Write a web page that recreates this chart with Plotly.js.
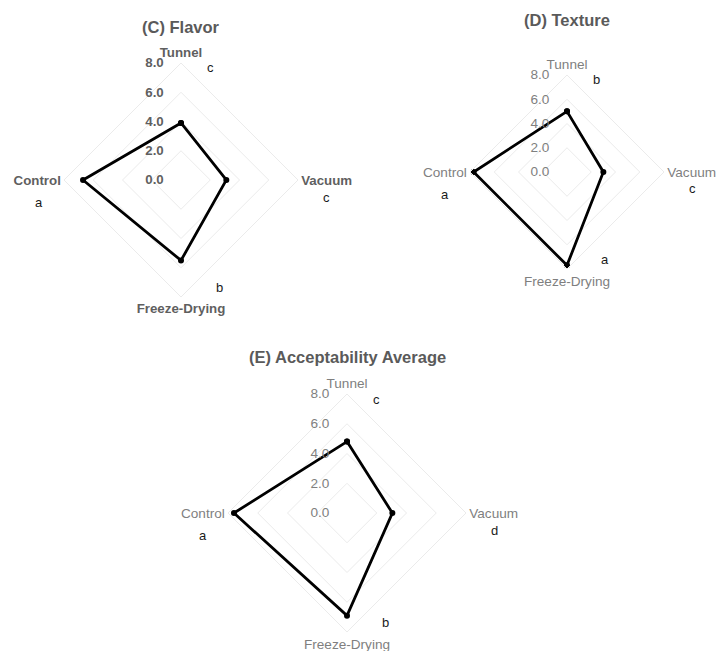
<!DOCTYPE html>
<html>
<head>
<meta charset="utf-8">
<script src="https://cdn.plot.ly/plotly-3.0.1.min.js"></script>
<style>
  html, body { margin: 0; padding: 0; background: #ffffff; }
  #chart { width: 717px; height: 651px; }
</style>
</head>
<body>
<div id="chart"></div>
<script>
// Drying methods, listed counter-clockwise starting from the top axis
const methods = ['Tunnel', 'Control', 'Freeze-Drying', 'Vacuum'];

// Mean sensory scores per drying method
const flavorScores = [3.9, 6.7, 5.5, 3.1];
const textureScores = [5.0, 7.7, 7.7, 3.0];
const acceptabilityScores = [4.8, 7.6, 6.9, 3.05];

// Significance letters per drying method
const flavorLetters = ['c', 'a', 'b', 'c'];
const textureLetters = ['b', 'a', 'a', 'c'];
const acceptabilityLetters = ['c', 'a', 'b', 'd'];

// Radial scale ticks
const scaleTicks = [0, 2, 4, 6, 8];
const scaleTickLabels = ['0.0', '2.0', '4.0', '6.0', '8.0'];

const W = 717, H = 651;
const FONT = 'Liberation Sans, Arial, sans-serif';
// trailing gap so the scale labels sit a little left of the top axis
const LABEL_GAP = '\u00a0\u00a0\u00a0\u00a0';

// Panel geometry in pixels: centre and outer radius of each radar
const panels = [
  { key: 'polar',  title: '(C) Flavor',                 scores: flavorScores,        letters: flavorLetters,        cx: 181, cy: 180, R: 117, titleY: 27,  bold: true,  labelColor: '#5f5f5f' },
  { key: 'polar2', title: '(D) Texture',                scores: textureScores,       letters: textureLetters,       cx: 567, cy: 172, R: 97,  titleY: 20,  bold: false, labelColor: '#7f7f7f' },
  { key: 'polar3', title: '(E) Acceptability Average',  scores: acceptabilityScores, letters: acceptabilityLetters, cx: 347, cy: 513, R: 119, titleY: 357, bold: false, labelColor: '#7f7f7f' }
];

// Letter offsets (px) from each method's outer vertex
const letterOffsets = {
  'Tunnel':        [29, 5],
  'Control':       [-25, 22],
  'Freeze-Drying': [38, -10],
  'Vacuum':        [28, 17]
};
const vertexDir = {
  'Tunnel':        [0, -1],
  'Control':       [-1, 0],
  'Freeze-Drying': [0, 1],
  'Vacuum':        [1, 0]
};

const traces = [];
const layout = {
  width: W, height: H,
  margin: { l: 0, r: 0, t: 0, b: 0 },
  paper_bgcolor: '#ffffff',
  showlegend: false,
  font: { family: FONT, color: '#7f7f7f', size: 12 },
  annotations: []
};

panels.forEach(p => {
  traces.push({
    type: 'scatterpolar',
    subplot: p.key,
    r: p.scores.concat([p.scores[0]]),
    theta: methods.concat([methods[0]]),
    mode: 'lines+markers',
    line: { color: '#000000', width: 2.8 },
    marker: { color: '#000000', size: 6 },
    cliponaxis: false,
    hoverinfo: 'skip'
  });

  const labelFont = { family: FONT, size: p.bold ? 13.3 : 13.6, color: p.labelColor, weight: p.bold ? 'bold' : 'normal' };

  layout[p.key] = {
    domain: {
      x: [(p.cx - p.R) / W, (p.cx + p.R) / W],
      y: [1 - (p.cy + p.R) / H, 1 - (p.cy - p.R) / H]
    },
    bgcolor: '#ffffff',
    gridshape: 'linear',
    layer: 'below traces',
    radialaxis: {
      range: [0, 8],
      angle: 90,
      side: 'counterclockwise',
      tickangle: 90,
      tickvals: scaleTicks,
      ticktext: scaleTickLabels.map(t => t + LABEL_GAP),
      ticks: '',
      showline: false,
      showgrid: true,
      gridcolor: '#ebebeb',
      gridwidth: 1,
      tickfont: labelFont
    },
    angularaxis: {
      type: 'category',
      categoryarray: methods,
      rotation: 90,
      direction: 'counterclockwise',
      showgrid: false,
      showline: true,
      linecolor: '#ebebeb',
      linewidth: 1,
      ticks: '',
      tickfont: labelFont
    }
  };

  layout.annotations.push({
    xref: 'paper', yref: 'paper',
    x: p.cx / W, y: 1 - p.titleY / H,
    xanchor: 'center', yanchor: 'middle',
    text: '<b>' + p.title + '</b>',
    showarrow: false,
    font: { family: FONT, size: 16.5, color: '#5a5a5a' }
  });

  methods.forEach((m, i) => {
    const d = vertexDir[m], o = letterOffsets[m];
    const px = p.cx + d[0] * p.R + o[0];
    const py = p.cy + d[1] * p.R + o[1];
    layout.annotations.push({
      xref: 'paper', yref: 'paper',
      x: px / W, y: 1 - py / H,
      xanchor: 'center', yanchor: 'middle',
      text: p.letters[i],
      showarrow: false,
      font: { family: FONT, size: 13, color: '#1a1a1a' }
    });
  });
});

Plotly.newPlot('chart', traces, layout, { displayModeBar: false, staticPlot: true });
</script>
</body>
</html>
